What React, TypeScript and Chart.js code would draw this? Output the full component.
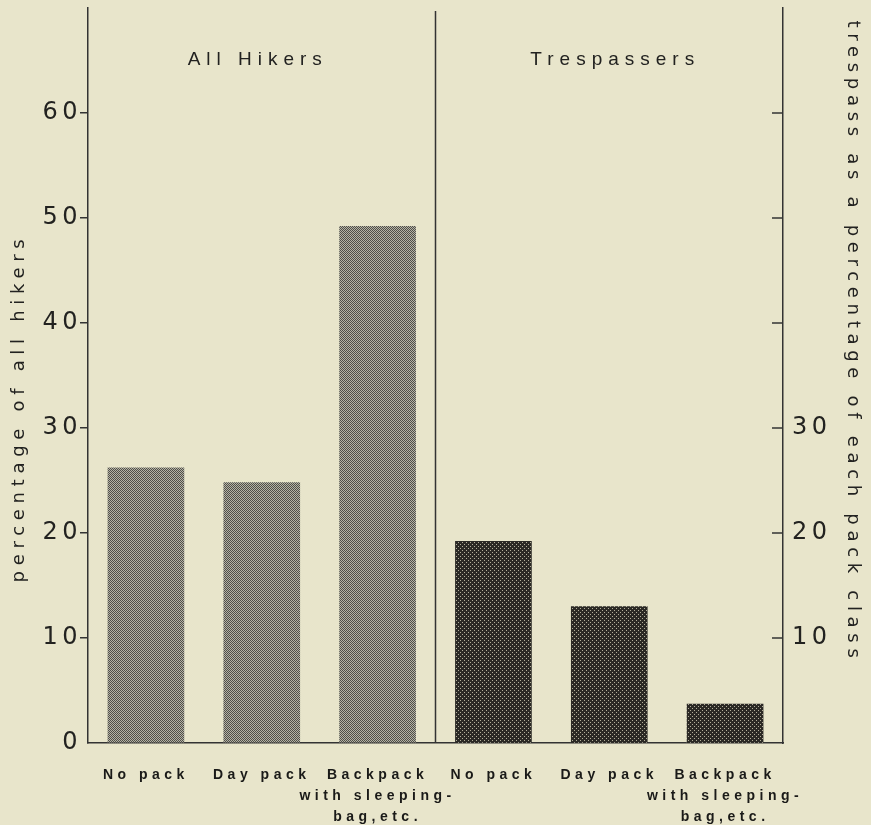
import { useEffect, useRef } from "react";
import { Chart, registerables } from "chart.js";

Chart.register(...registerables);

const categories: string[][] = [
  ["No pack"],
  ["Day pack"],
  ["Backpack", "with sleeping-", "bag,etc."],
  ["No pack"],
  ["Day pack"],
  ["Backpack", "with sleeping-", "bag,etc."],
];
const allHikers = [26.2, 24.8, 49.2];
const trespassers = [19.2, 13.0, 3.7];
const panelTitles = ["All Hikers", "Trespassers"];
const leftAxisTitle = "percentage of all hikers";
const rightAxisTitle = "trespass as a percentage of each pack class";
const leftTickLabels = [0, 10, 20, 30, 40, 50, 60];
const rightTickLabels = [10, 20, 30];
const rightTickMarks = [10, 20, 30, 40, 50, 60];
const axisMax = 70;

const INK = "#222220";

function makePattern(bg: string, fg: string, dots: [number, number][], size: number) {
  const c = document.createElement("canvas");
  c.width = size;
  c.height = size;
  const g = c.getContext("2d")!;
  g.fillStyle = bg;
  g.fillRect(0, 0, size, size);
  g.fillStyle = fg;
  dots.forEach(([x, y]) => g.fillRect(x, y, 1, 1));
  const p = g.createPattern(c, "repeat");
  return p as CanvasPattern;
}

const decorPlugin = {
  id: "decor",
  beforeDraw(chart: any) {
    chart.ctx.letterSpacing = "4.5px";
  },
  afterDraw(chart: any) {
    const { ctx, chartArea } = chart;
    const xs = chart.scales.x;
    const y2 = chart.scales.y2;
    const divX = (xs.getPixelForValue(2) + xs.getPixelForValue(3)) / 2;
    ctx.save();
    ctx.strokeStyle = "#333";
    ctx.lineWidth = 1.5;
    // panel divider
    ctx.beginPath();
    ctx.moveTo(divX, chartArea.top + 3);
    ctx.lineTo(divX, chartArea.bottom);
    ctx.stroke();
    // inward ticks on right axis
    rightTickMarks.forEach((v) => {
      const py = y2.getPixelForValue(v);
      ctx.beginPath();
      ctx.moveTo(chartArea.right - 11, py);
      ctx.lineTo(chartArea.right, py);
      ctx.stroke();
    });
    // panel titles
    ctx.fillStyle = INK;
    ctx.textAlign = "center";
    ctx.textBaseline = "middle";
    ctx.font = '19px "Liberation Sans", Arial, sans-serif';
    ctx.letterSpacing = "6px";
    ctx.fillText(panelTitles[0], (chartArea.left + divX) / 2 - 4, 60);
    ctx.fillText(panelTitles[1], (divX + chartArea.right) / 2 + 6, 60);
    // axis titles
    ctx.font = '18px "DejaVu Sans", sans-serif';
    ctx.letterSpacing = "5.7px";
    ctx.save();
    ctx.translate(19, 408);
    ctx.rotate(-Math.PI / 2);
    ctx.fillText(leftAxisTitle, 0, 0);
    ctx.restore();
    ctx.save();
    ctx.translate(853, 342);
    ctx.rotate(Math.PI / 2);
    ctx.fillText(rightAxisTitle, 0, 0);
    ctx.restore();
    ctx.restore();
  },
};

export default function App() {
  const ref = useRef<HTMLCanvasElement>(null);

  useEffect(() => {
    const leftPattern = makePattern("#b5b3a5", "#4f4e49", [[0, 0], [2, 0], [1, 1], [3, 1], [0, 2], [2, 2], [1, 3], [3, 3]], 4);
    const rightPattern = makePattern("#2b2925", "#b3af9b", [[0, 0], [2, 2]], 4);
    const n = allHikers.length;
    const vFit = (s: any) => {
      s.width = 88;
      s.paddingTop = 0;
      s.paddingBottom = 0;
    };
    const chart = new Chart(ref.current!, {
      type: "bar",
      data: {
        labels: categories,
        datasets: [
          {
            data: [...allHikers, ...Array(trespassers.length).fill(null)],
            backgroundColor: leftPattern,
            yAxisID: "y",
            grouped: false,
            barThickness: 76,
          } as any,
          {
            data: [...Array(n).fill(null), ...trespassers],
            backgroundColor: rightPattern,
            yAxisID: "y2",
            grouped: false,
            barThickness: 76,
          } as any,
        ],
      },
      options: {
        animation: false,
        responsive: true,
        maintainAspectRatio: false,
        layout: { padding: { top: 8, left: 0, right: 0, bottom: 0 } },
        plugins: { legend: { display: false }, tooltip: { enabled: false } },
        scales: {
          x: {
            type: "category",
            offset: true,
            grid: { display: false, drawTicks: false },
            border: { display: true, color: "#333", width: 1.5 },
            ticks: {
              maxRotation: 0,
              minRotation: 0,
              autoSkip: false,
              padding: 21.5,
              color: "#1a1a18",
              font: { family: '"Liberation Sans", Arial, sans-serif', size: 14, weight: "bold", lineHeight: "21px" },
            },
            afterFit: (s: any) => {
              s.height = 82;
              s.paddingLeft = 0;
              s.paddingRight = 0;
            },
          },
          y: {
            position: "left",
            min: 0,
            max: axisMax,
            ticks: {
              stepSize: 10,
              padding: -2,
              color: INK,
              font: { family: '"DejaVu Sans", sans-serif', size: 24 },
              callback: (v: any) => (leftTickLabels.includes(v) ? String(v) : ""),
            },
            grid: {
              drawOnChartArea: false,
              drawTicks: true,
              tickLength: 8,
              lineWidth: 1.5,
              color: (c: any) =>
                c.tick && c.tick.value > 0 && leftTickLabels.includes(c.tick.value) ? "#333" : "rgba(0,0,0,0)",
            },
            border: { display: true, color: "#333", width: 1.5 },
            afterFit: vFit,
          },
          y2: {
            position: "right",
            min: 0,
            max: axisMax,
            ticks: {
              stepSize: 10,
              padding: 9,
              color: INK,
              font: { family: '"DejaVu Sans", sans-serif', size: 24 },
              callback: (v: any) => (rightTickLabels.includes(v) ? String(v) : ""),
            },
            grid: { drawOnChartArea: false, drawTicks: false },
            border: { display: true, color: "#333", width: 1.5 },
            afterFit: vFit,
          },
        },
      } as any,
      plugins: [decorPlugin],
    });
    return () => chart.destroy();
  }, []);

  return (
    <div style={{ position: "fixed", left: 0, top: 0, width: 871, height: 825, background: "#e8e5cb" }}>
      <canvas ref={ref} />
    </div>
  );
}
